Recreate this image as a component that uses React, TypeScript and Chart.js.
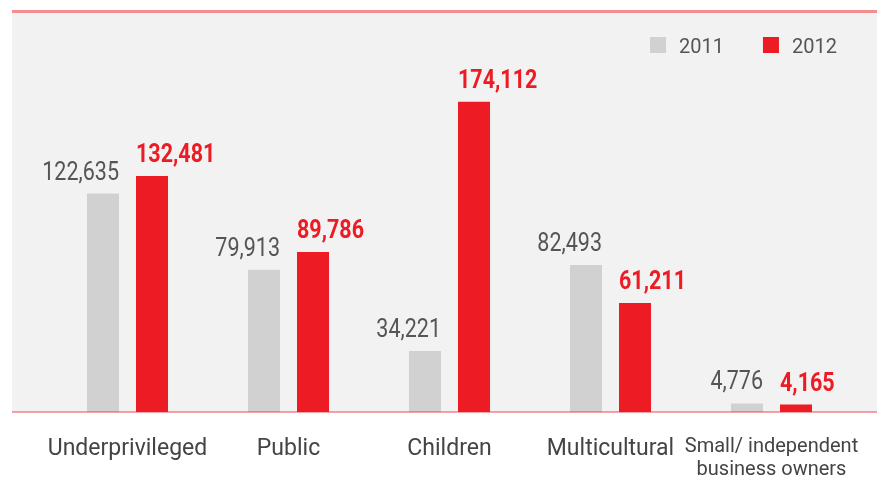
import React, { useEffect, useRef } from "react";
import { Chart, registerables } from "chart.js";

Chart.register(...registerables);

const categories: (string | string[])[] = [
  "Underprivileged",
  "Public",
  "Children",
  "Multicultural",
  ["Small/ independent", "business owners"],
];
const seriesLabels = ["2011", "2012"];
const values2011 = [122635, 79913, 34221, 82493, 4776];
const values2012 = [132481, 89786, 174112, 61211, 4165];
const seriesColors = ["#d1d1d1", "#ed1c24"];

const fmt = (v: number) => v.toLocaleString("en-US");

const decor = {
  id: "decor",
  beforeDraw(chart: any) {
    const { ctx, chartArea } = chart;
    ctx.save();
    ctx.fillStyle = "#f2f2f2";
    ctx.fillRect(12, chartArea.top, 865, chartArea.bottom - chartArea.top);
    ctx.fillStyle = "rgba(237,28,36,0.5)";
    ctx.fillRect(12, chartArea.top - 3, 865, 3);
    ctx.restore();
  },
  afterDatasetsDraw(chart: any) {
    const { ctx, chartArea } = chart;
    ctx.save();
    // baseline
    ctx.fillStyle = "rgba(237,28,36,0.4)";
    ctx.fillRect(12, chartArea.bottom - 1, 865, 2);

    // value labels
    chart.data.datasets.forEach((ds: any, di: number) => {
      const meta = chart.getDatasetMeta(di);
      meta.data.forEach((bar: any, i: number) => {
        const v = ds.data[i] as number;
        const half = bar.width / 2;
        ctx.save();
        ctx.translate(di === 0 ? bar.x + half : bar.x - half, bar.y - 14);
        ctx.scale(0.86, 1);
        ctx.textAlign = di === 0 ? "right" : "left";
        ctx.textBaseline = "alphabetic";
        ctx.font = di === 0 ? "400 25px Roboto" : "700 25px Roboto";
        ctx.fillStyle = di === 0 ? "#555555" : "#ed1c24";
        ctx.fillText(fmt(v), 0, 0);
        ctx.restore();
      });
    });

    // legend
    let x = chartArea.right - 202;
    ctx.font = "400 20px Roboto";
    ctx.textAlign = "left";
    ctx.textBaseline = "alphabetic";
    chart.data.datasets.forEach((ds: any) => {
      ctx.fillStyle = ds.backgroundColor;
      ctx.fillRect(x, 37, 16, 16);
      ctx.fillStyle = "#555555";
      ctx.fillText(ds.label, x + 29, 53);
      x += 29 + ctx.measureText(ds.label).width + 39;
    });
    ctx.restore();
  },
};

export default function App() {
  const ref = useRef<HTMLCanvasElement | null>(null);

  useEffect(() => {
    if (!ref.current) return;
    const chart = new Chart(ref.current, {
      type: "bar",
      data: {
        labels: categories as any,
        datasets: [
          { label: seriesLabels[0], data: values2011, backgroundColor: seriesColors[0] },
          { label: seriesLabels[1], data: values2012, backgroundColor: seriesColors[1] },
        ],
      },
      options: {
        animation: false,
        responsive: true,
        maintainAspectRatio: false,
        layout: { padding: { top: 13, left: 47, right: 35, bottom: 0 } },
        datasets: { bar: { categoryPercentage: 0.609, barPercentage: 0.653 } },
        plugins: { legend: { display: false }, tooltip: { enabled: false } },
        scales: {
          x: {
            grid: { display: false, drawTicks: false },
            border: { display: false },
            ticks: {
              color: "#444444",
              padding: 24,
              maxRotation: 0,
              autoSkip: false,
              font: (c: any) => ({ family: "Roboto", size: c.index === 4 ? 20 : 23, lineHeight: 1.12 }),
            },
            afterFit: (s: any) => {
              s.height = 70;
            },
          },
          y: { display: false, min: 0, max: 224000 },
        },
      } as any,
      plugins: [decor],
    });
    return () => chart.destroy();
  }, []);

  return (
    <div style={{ position: "fixed", left: 0, top: 0, width: 887, height: 482 }}>
      <canvas ref={ref} />
    </div>
  );
}
